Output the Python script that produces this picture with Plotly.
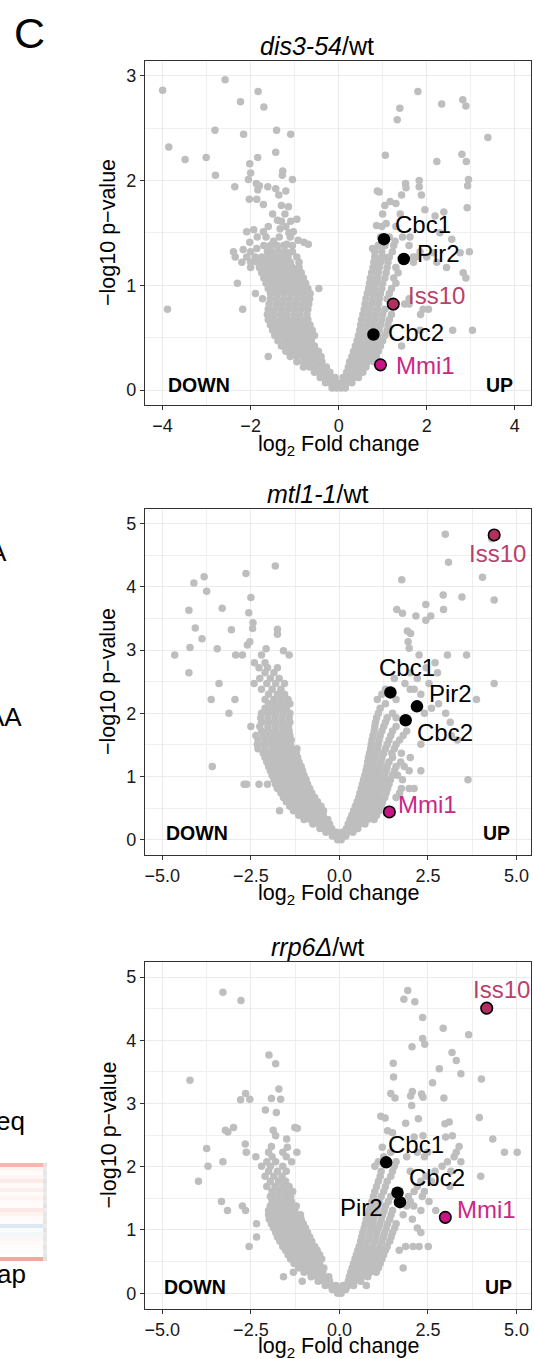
import plotly.graph_objects as go

W, H = 534, 1359
FONT = "Liberation Sans, Arial, Helvetica, sans-serif"

# ------------------------------------------------------------------ data
# panel 1 : dis3-54/wt  -- dense part given as rows (y, [x ...]), plus scattered points
p1_rows = [
    (0.02, [-0.15, -0.05, 0.05, 0.15]),
    (0.07, [-0.3, -0.18, -0.06, 0.06, 0.18, 0.3]),
    (0.12, [-0.42, -0.3, -0.18, -0.08, 0.1, 0.22, 0.34, 0.45]),
    (0.17, [-0.55, -0.42, -0.3, -0.2, 0.18, 0.3, 0.42, 0.55]),
    (0.22, [-0.8, -0.66, -0.52, -0.4, -0.28, 0.22, 0.35, 0.48, 0.62]),
    (0.27, [-0.95, -0.8, -0.66, -0.52, -0.38, 0.25, 0.38, 0.52, 0.66, 0.8]),
    (0.32, [-1.6, -1.1, -0.95, -0.8, -0.66, -0.52, -0.4, 0.3, 0.44, 0.58, 0.72, 0.86]),
    (0.37, [-1.2, -1.05, -0.9, -0.75, -0.6, -0.46, 0.34, 0.48, 0.62, 0.76, 0.9]),
    (0.42, [-1.3, -1.15, -1.0, -0.85, -0.7, -0.55, 0.38, 0.52, 0.66, 0.8, 0.95, 1.43]),
    (0.47, [-1.38, -1.22, -1.07, -0.92, -0.77, -0.62, 0.42, 0.56, 0.7, 0.84, 1.0]),
    (0.52, [-1.45, -1.3, -1.15, -1.0, -0.85, -0.7, -0.55, 0.45, 0.6, 0.74, 0.88, 1.05]),
    (0.57, [-1.5, -1.35, -1.2, -1.05, -0.9, -0.75, -0.6, 0.48, 0.62, 0.78, 0.92, 1.1, 1.85, 2.59, 3.04]),
    (0.62, [-1.55, -1.4, -1.25, -1.1, -0.95, -0.8, -0.65, 0.5, 0.65, 0.8, 0.95, 1.12]),
    (0.67, [-1.6, -1.45, -1.3, -1.15, -1.0, -0.85, -0.7, 0.52, 0.68, 0.82, 0.98, 1.15]),
    (0.72, [-1.62, -1.48, -1.32, -1.18, -1.02, -0.88, -0.72, 0.55, 0.7, 0.85, 1.0, 1.2, 1.86]),
    (0.77, [-3.89, -2.18, -1.6, -1.45, -1.3, -1.15, -1.0, -0.85, -0.7, 0.58, 0.72, 0.88, 1.05, 1.92, 2.04]),
    (0.82, [-1.58, -1.42, -1.28, -1.12, -0.98, -0.82, -0.68, 0.6, 0.75, 0.9, 1.5, 1.6]),
    (0.87, [-1.73, -1.55, -1.4, -1.25, -1.1, -0.95, -0.8, -0.66, 0.62, 0.78, 0.92, 1.1, 1.6]),
    (0.92, [-1.89, -1.55, -1.4, -1.25, -1.1, -0.95, -0.8, -0.65, 0.65, 0.8, 0.95, 1.15]),
    (0.97, [-1.6, -1.45, -1.3, -1.15, -1.0, -0.85, -0.7, -0.45, 0.68, 0.82, 0.98, 1.2]),
    (1.02, [-2.3, -1.65, -1.5, -1.35, -1.2, -1.05, -0.9, -0.75, 0.7, 0.85, 1.0, 1.3]),
    (1.07, [-1.7, -1.55, -1.4, -1.25, -1.1, -0.95, -0.8, 0.72, 0.88, 1.05, 1.25, 2.89]),
    (1.12, [-1.75, -1.6, -1.45, -1.3, -1.15, -1.0, -0.85, 0.75, 0.9, 1.08, 1.35, 2.83]),
    (1.17, [-2.0, -1.8, -1.65, -1.5, -1.35, -1.2, -1.05, -0.9, 0.78, 0.92, 1.1, 1.3, 2.45]),
    (1.22, [-2.2, -2.0, -1.85, -1.7, -1.55, -1.4, -1.25, -1.1, -0.9, 0.8, 0.95, 1.12, 1.7, 2.23]),
    (1.27, [-2.35, -1.9, -1.75, -1.6, -1.45, -1.3, -1.15, -0.95, 0.82, 1.0, 1.15, 1.7, 2.0]),
    (1.32, [-2.0, -1.62, -1.5, -1.35, -1.2, -1.05, 0.82, 0.98, 1.22, 1.85, 2.97]),
    (1.38, [-1.7, -1.55, -1.4, -1.25, -1.05, 0.9, 1.05, 1.25, 1.6]),
    (1.46, [-1.85, -1.65, -1.35, -1.1, 0.95, 1.15, 1.45]),
    (1.56, [-1.6, -1.2, 0.98, 1.3]),
    (1.68, [-1.5, -1.22, 1.0, 1.4]),
]
p1_sparse = [
    (-4.0, 2.86), (-2.58, 2.96), (-1.83, 2.85), (-2.23, 2.75), (-1.70, 2.70), (-3.86, 2.32),
    (-3.49, 2.20), (-3.01, 2.22), (-2.81, 2.48), (-2.16, 2.44), (-1.41, 2.48), (-1.09, 2.44),
    (-2.80, 2.05), (-2.36, 1.94), (-2.02, 2.16), (-1.84, 2.22), (-1.43, 2.27), (-2.0, 2.07),
    (-2.05, 2.01), (-1.87, 1.97), (-1.84, 1.91), (-2.03, 1.82), (-1.86, 1.82), (-1.71, 1.77),
    (-1.80, 1.95), (-1.61, 1.94), (-1.43, 1.92), (-1.36, 1.86), (-1.20, 1.90), (-1.27, 2.09),
    (-1.28, 2.05), (-1.05, 2.01), (-1.30, 1.76), (-1.14, 1.75), (-1.39, 1.62), (-1.30, 1.61),
    (-1.09, 1.61), (-0.95, 1.63), (-2.09, 1.51), (-1.93, 1.53), (-1.71, 1.51), (-1.33, 1.54),
    (-1.13, 1.50), (-1.03, 1.51), (-1.48, 1.42), (-1.18, 1.39), (-0.92, 1.43), (-0.79, 1.41),
    (-0.69, 1.39), (-2.02, 1.41), (-2.17, 1.34), (-2.39, 1.32), (-2.09, 1.27), (-1.86, 1.35),
    (1.80, 2.85), (1.39, 2.69), (1.33, 2.58), (2.34, 2.73), (2.82, 2.77), (2.89, 2.71),
    (3.39, 2.41), (1.06, 2.24), (2.23, 2.18), (2.80, 2.25), (2.90, 2.18), (2.95, 2.01),
    (2.93, 1.95), (2.92, 1.74), (1.83, 2.0), (1.83, 1.94), (1.88, 1.86), (1.52, 1.97),
    (1.53, 1.93), (1.43, 1.86), (0.88, 1.90), (0.92, 1.89), (1.05, 1.76), (1.17, 1.80),
    (1.30, 1.78), (1.96, 1.72), (2.19, 1.66), (2.39, 1.70), (2.30, 1.50), (2.57, 1.44),
    (2.76, 1.31), (1.28, 1.42), (1.62, 1.46), (1.08, 1.59), (0.86, 1.57), (0.77, 1.35),
    (0.95, 1.26), (1.09, 1.26), (1.77, 1.27), (2.15, 1.31),
]

# panel 2 : mtl1-1/wt
p2_rows = [
    (0.0, [-0.05, 0.05]),
    (0.06, [-0.2, -0.08, 0.05, 0.18]),
    (0.12, [-0.38, -0.22, -0.08, 0.08, 0.22, 0.38]),
    (0.18, [-0.55, -0.38, -0.22, 0.2, 0.36, 0.52]),
    (0.25, [-0.75, -0.58, -0.42, -0.28, 0.25, 0.4, 0.56, 0.72]),
    (0.32, [-1.0, -0.82, -0.65, -0.48, -0.33, 0.3, 0.46, 0.62, 0.8, 0.98]),
    (0.39, [-1.15, -0.98, -0.8, -0.63, -0.46, 0.35, 0.52, 0.7, 0.88, 1.05]),
    (0.46, [-1.69, -1.3, -1.12, -0.95, -0.78, -0.6, -0.45, 0.4, 0.58, 0.76, 0.94, 1.12]),
    (0.53, [-1.4, -1.22, -1.05, -0.88, -0.7, -0.52, 0.45, 0.62, 0.8, 0.98, 1.18]),
    (0.6, [-1.5, -1.32, -1.15, -0.98, -0.8, -0.62, 0.5, 0.68, 0.86, 1.04, 1.22]),
    (0.67, [-1.58, -1.4, -1.22, -1.05, -0.88, -0.7, 0.55, 0.72, 0.9, 1.08, 1.28, 1.6]),
    (0.74, [-1.65, -1.48, -1.3, -1.12, -0.95, -0.78, 0.58, 0.76, 0.94, 1.12, 1.32, 1.7]),
    (0.81, [-1.75, -1.56, -1.38, -1.2, -1.02, -0.84, 0.62, 0.8, 0.98, 1.16, 1.36, 1.75, 1.97, 2.11]),
    (0.88, [-2.69, -2.62, -2.27, -2.03, -1.8, -1.62, -1.44, -1.26, -1.08, -0.9, 0.65, 0.84, 1.02, 1.2, 1.4]),
    (0.95, [-1.85, -1.66, -1.48, -1.3, -1.12, -0.94, 0.68, 0.86, 1.05, 1.24, 1.44, 1.78, 3.63]),
    (1.02, [-1.9, -1.72, -1.54, -1.36, -1.18, -1.0, 0.72, 0.9, 1.08, 1.28, 1.5, 1.64]),
    (1.09, [-1.95, -1.76, -1.58, -1.4, -1.22, -1.04, 0.75, 0.94, 1.12, 1.32, 1.55, 1.97, 2.3]),
    (1.16, [-3.59, -2.0, -1.8, -1.62, -1.44, -1.26, -1.08, 0.78, 0.96, 1.15, 1.35, 1.6, 1.83]),
    (1.23, [-2.05, -1.86, -1.68, -1.5, -1.32, -1.14, 0.8, 0.98, 1.18, 1.4, 1.73]),
    (1.3, [-2.1, -1.9, -1.72, -1.54, -1.36, -1.18, 0.82, 1.0, 1.2, 1.5, 2.0]),
    (1.37, [-2.15, -1.95, -1.76, -1.58, -1.4, -1.22, 0.85, 1.04, 1.25, 1.48, 1.75]),
    (1.44, [-2.3, -2.1, -1.9, -1.72, -1.54, -1.36, -1.2, 0.88, 1.08, 1.3, 1.55]),
    (1.51, [-2.32, -2.12, -1.92, -1.74, -1.56, -1.38, 0.9, 1.1, 1.35, 1.6, 2.3]),
    (1.58, [-2.3, -2.1, -1.9, -1.72, -1.54, -1.36, 0.92, 1.12, 1.4, 1.7, 3.33]),
    (1.65, [-2.36, -2.15, -1.95, -1.76, -1.58, -1.4, 0.95, 1.15, 1.45, 1.8, 3.16]),
    (1.72, [-2.2, -2.0, -1.8, -1.6, -1.42, 0.98, 1.2, 1.5, 1.9]),
    (1.79, [-2.5, -2.25, -2.02, -1.82, -1.62, -1.44, 1.0, 1.25, 1.6]),
    (1.86, [-2.2, -2.0, -1.8, -1.6, -1.4, 1.02, 1.3, 3.13]),
    (1.93, [-2.22, -2.02, -1.82, -1.62, -1.42, 1.05, 1.35, 1.6]),
    (2.0, [-3.12, -2.2, -2.0, -1.8, -1.6, -1.4, 1.1, 1.5, 2.4, 3.0]),
    (2.08, [-2.1, -1.9, -1.7, -1.5, 1.15, 2.6]),
    (2.15, [-2.0, -1.8, -1.6, -1.4, 1.3, 2.8]),
    (2.22, [-3.62, -2.95, -2.1, -1.85, -1.65, -1.45, 1.07, 1.6, 3.87]),
    (2.3, [-2.0, -1.75, -1.55, 1.2, 2.3]),
    (2.38, [-2.2, -1.9, -1.65, 1.3, 2.0, 2.11]),
    (2.47, [-3.40, -2.41, -2.05, -1.8, -1.55, 1.85, 2.53, 4.37]),
    (2.55, [-2.25, -1.95, -1.7, 1.55, 2.2]),
    (2.64, [-4.25, -2.1, -1.85, 2.0, 2.77]),
    (2.72, [-2.27, -2.03, -1.75, 2.45]),
    (2.8, [-2.4, -2.1, 2.7]),
    (2.92, [-4.65, -2.93, -2.74, -2.2, -1.42, 2.25, 3.05, 3.59]),
]
p2_sparse = [
    (2.99, 4.83), (3.08, 4.39), (4.04, 4.15), (4.37, 3.79), (3.46, 3.84), (2.93, 3.87),
    (2.94, 3.64), (2.44, 3.72), (2.44, 3.47), (2.58, 3.54), (2.16, 3.54), (1.62, 3.64),
    (1.78, 3.58), (1.76, 4.11), (1.92, 3.30), (2.01, 3.26), (1.94, 3.13), (1.97, 3.03),
    (-1.81, 4.33), (-2.64, 4.21), (-3.82, 4.16), (-4.11, 4.06), (-3.75, 3.93), (-2.50, 3.83),
    (-4.25, 3.63), (-3.31, 3.66), (-2.56, 3.59), (-2.44, 3.43), (-2.45, 3.34), (-4.07, 3.35),
    (-3.88, 3.18), (-3.05, 3.32), (-1.75, 3.33), (-1.75, 3.25), (-2.53, 3.13), (-2.60, 3.08),
    (-4.22, 3.04), (-3.45, 3.02), (-2.07, 3.02), (-1.58, 2.99), (4.30, 4.76),
]

# panel 3 : rrp6Δ/wt
p3_rows = [
    (0.0, [-0.05, 0.05]),
    (0.06, [-0.2, -0.08, 0.06, 0.18]),
    (0.12, [-0.4, -0.25, -0.1, 0.1, 0.25, 0.4, 0.76]),
    (0.19, [-1.05, -0.6, -0.44, -0.28, 0.25, 0.42, 0.6]),
    (0.26, [-1.58, -0.8, -0.62, -0.45, -0.3, 0.28, 0.45, 0.62, 0.8]),
    (0.33, [-1.3, -1.0, -0.82, -0.64, -0.47, 0.32, 0.5, 0.68, 0.86, 1.04]),
    (0.4, [-1.15, -0.96, -0.78, -0.6, -0.44, 0.36, 0.54, 0.72, 0.9, 1.1, 1.8]),
    (0.47, [-1.28, -1.1, -0.92, -0.74, -0.56, 0.4, 0.58, 0.76, 0.95, 1.15]),
    (0.54, [-1.38, -1.2, -1.02, -0.84, -0.66, -0.5, 0.44, 0.62, 0.8, 1.0, 1.2]),
    (0.61, [-1.45, -1.28, -1.1, -0.92, -0.74, -0.56, 0.48, 0.66, 0.85, 1.05, 1.25]),
    (0.68, [-1.52, -1.35, -1.17, -0.99, -0.81, -0.63, 0.52, 0.7, 0.9, 1.1, 1.3, 1.69]),
    (0.74, [-2.55, -1.6, -1.42, -1.24, -1.06, -0.88, -0.7, 0.56, 0.75, 0.95, 1.15, 1.35,
            1.87, 2.08, 2.25, 2.51]),
    (0.82, [-1.68, -1.5, -1.32, -1.14, -0.96, -0.78, 0.6, 0.8, 1.0, 1.2, 1.42]),
    (0.89, [-2.34, -1.75, -1.56, -1.38, -1.2, -1.02, -0.84, 0.63, 0.83, 1.03, 1.24, 1.46]),
    (0.96, [-1.8, -1.62, -1.44, -1.26, -1.08, -0.9, 0.66, 0.86, 1.06, 1.28, 1.5, 2.3]),
    (1.03, [-1.86, -1.68, -1.5, -1.32, -1.14, -0.96, 0.7, 0.9, 1.1, 1.32, 1.56, 2.2]),
    (1.1, [-2.34, -1.92, -1.74, -1.56, -1.38, -1.2, -1.02, 0.73, 0.93, 1.14, 1.36, 1.6]),
    (1.17, [-1.98, -1.8, -1.62, -1.44, -1.26, -1.08, 0.76, 0.96, 1.18, 1.42, 2.06]),
    (1.24, [-2.0, -1.82, -1.64, -1.46, -1.28, -1.1, 0.8, 1.0, 1.22, 1.46, 1.8]),
    (1.31, [-3.16, -2.65, -2.0, -1.8, -1.62, -1.44, -1.26, 0.84, 1.04, 1.26, 1.5, 2.3, 2.72]),
    (1.38, [-2.74, -1.95, -1.76, -1.58, -1.4, -1.22, 0.88, 1.08, 1.3, 1.9, 2.1]),
    (1.45, [-3.33, -1.9, -1.72, -1.54, -1.36, 0.92, 1.12, 1.38, 2.0, 2.53]),
    (1.53, [-1.95, -1.75, -1.55, -1.38, 0.96, 1.18, 1.45, 1.95, 2.34]),
    (1.61, [-1.9, -1.7, -1.5, -1.32, 1.0, 1.25, 2.11, 2.4]),
    (1.69, [-2.05, -1.82, -1.62, -1.42, 1.05, 1.3, 2.2, 3.12]),
    (1.77, [-3.98, -1.95, -1.72, -1.52, 1.1, 1.35, 2.3, 2.6]),
    (1.85, [-2.1, -1.85, -1.62, 1.15, 1.45, 2.44, 3.99]),
    (1.93, [-2.0, -1.75, -1.5, 1.18, 1.5, 2.0, 2.7, 3.15]),
    (2.01, [-3.71, -2.2, -1.95, -1.6, 1.0, 1.55, 2.9]),
    (2.08, [-3.29, -2.05, -1.8, -1.35, 1.1, 1.6, 3.05, 3.43]),
    (2.16, [-2.36, -1.9, -1.5, 1.25, 1.9, 2.4, 3.24]),
    (2.23, [-2.63, -2.0, -1.6, -1.2, 1.45, 2.2, 2.49, 3.3, 4.66, 5.02]),
]
p3_sparse = [
    (-3.29, 4.76), (-2.78, 4.63), (-1.99, 3.77), (-1.80, 3.63), (-4.22, 3.37), (-2.65, 3.16),
    (-2.79, 3.06), (-2.53, 3.07), (-1.71, 3.23), (-1.92, 3.08), (-1.66, 3.07), (-2.09, 2.90),
    (-1.78, 2.86), (-3.22, 2.58), (-3.15, 2.55), (-2.99, 2.62), (-1.87, 2.58), (-1.80, 2.49),
    (-1.49, 2.44), (-1.26, 2.62), (-1.19, 2.61), (-2.66, 2.36), (-3.75, 2.29), (-1.92, 2.32),
    (-1.47, 2.31),
    (1.93, 4.79), (1.82, 4.65), (2.13, 4.61), (2.35, 4.36), (2.35, 4.03), (2.41, 3.94),
    (2.05, 3.90), (2.93, 4.19), (3.65, 4.09), (3.18, 3.81), (3.30, 3.68), (3.43, 3.47),
    (2.82, 3.55), (2.63, 3.33), (4.01, 3.39), (1.52, 3.64), (1.53, 3.42), (1.45, 3.16),
    (1.57, 3.09), (2.06, 3.19), (2.01, 3.12), (2.32, 3.15), (2.36, 3.10), (2.04, 2.97),
    (2.95, 3.09), (1.17, 2.80), (1.29, 2.77), (1.87, 2.69), (2.23, 2.76), (2.98, 2.68),
    (3.10, 2.71), (3.95, 2.78), (4.33, 2.44), (1.36, 2.57), (1.50, 2.54), (3.19, 2.49),
    (3.0, 2.47), (2.11, 2.47), (2.36, 2.49), (3.38, 2.32), (1.21, 2.31), (4.12, 4.47),
]

# highlighted genes (log2 fold change, -log10 p)
genes = ["Cbc1", "Pir2", "Cbc2", "Iss10", "Mmi1"]
p1_hi = {"Cbc1": (1.03, 1.44), "Pir2": (1.48, 1.25), "Cbc2": (0.79, 0.53),
         "Iss10": (1.24, 0.82), "Mmi1": (0.95, 0.24)}
p2_hi = {"Cbc1": (1.44, 2.33), "Pir2": (2.19, 2.11), "Cbc2": (1.87, 1.89),
         "Iss10": (4.37, 4.82), "Mmi1": (1.41, 0.44)}
p3_hi = {"Cbc1": (1.32, 2.07), "Pir2": (1.71, 1.44), "Cbc2": (1.64, 1.59),
         "Iss10": (4.16, 4.51), "Mmi1": (2.99, 1.20)}

titles = ["<i>dis3-54</i>/wt", "<i>mtl1-1</i>/wt", "<i>rrp6Δ</i>/wt"]
p1_xticks = [-4, -2, 0, 2, 4]
p23_xticks = [-5.0, -2.5, 0.0, 2.5, 5.0]
p1_yticks = [0, 1, 2, 3]
p23_yticks = [0, 1, 2, 3, 4, 5]

# fragment of the neighbouring heat map (values per row, top to bottom)
hm_values = [0.42, 0.06, 0.02, 0.05, 0.12, 0.03, 0.09, 0.02, 0.06, 0.03, 0.02, 0.13,
             0.07, 0.03, 0.02, -0.17, -0.03, -0.05, 0.05, 0.03, 0.02, -0.02, 0.0, 0.5]
hm_side = [0.3, 0.8, 0.5, 0.9, 0.4, 0.8, 0.6, 0.9, 0.5, 0.8, 0.4, 0.9,
           0.6, 0.8, 0.5, 0.9, 0.4, 0.8, 0.6, 0.9, 0.5, 0.8, 0.6, 0.3]

# ------------------------------------------------------------------ styles
GREY = "#BEBEBE"
HI_COL = {"Cbc1": "#000000", "Pir2": "#000000", "Cbc2": "#000000",
          "Iss10": "#B03060", "Mmi1": "#C71585"}
TXT_COL = {"Cbc1": "#000000", "Pir2": "#000000", "Cbc2": "#000000",
           "Iss10": "#B8416C", "Mmi1": "#C92887"}
# label placement in pixels relative to the point: (xanchor, xshift, yshift)
LBL = [
    {"Cbc1": ("left", 9, 15), "Pir2": ("left", 11, 6), "Iss10": ("left", 13, 9),
     "Cbc2": ("left", 13, 2), "Mmi1": ("left", 14, -1)},
    {"Cbc1": ("center", 17, 25), "Pir2": ("left", 10, 13), "Iss10": ("center", 3, -19),
     "Cbc2": ("left", 9, -12), "Mmi1": ("left", 7, 7)},
    {"Cbc1": ("center", 30, 18), "Pir2": ("right", -15, -5), "Iss10": ("center", 15, 19),
     "Cbc2": ("left", 10, 15), "Mmi1": ("left", 10, 8)},
]

# panel pixel boxes: (top, bottom); x from 145 to 531
PX_L, PX_R = 145, 531
BOX = [(61, 405), (509, 855), (962, 1309)]
XR = [[-4.40, 4.37], [-5.49, 5.41], [-5.49, 5.41]]
YR = [[-0.143, 3.14], [-0.24, 5.23], [-0.25, 5.24]]
XLAB_Y = [445, 894, 1347]


def fx(px):
    return px / W


def fy(py):
    return 1 - py / H


def expand(rows, sparse):
    xs, ys = [], []
    for y, xl in rows:
        for x in xl:
            xs.append(x)
            ys.append(y)
    for x, y in sparse:
        xs.append(x)
        ys.append(y)
    return xs, ys


fig = go.Figure()
annotations = []

panels = [(p1_rows, p1_sparse, p1_hi), (p2_rows, p2_sparse, p2_hi), (p3_rows, p3_sparse, p3_hi)]
for i, (rows, sparse, hi) in enumerate(panels):
    ax = "" if i == 0 else str(i + 1)
    xs, ys = expand(rows, sparse)
    fig.add_trace(go.Scatter(x=xs, y=ys, mode="markers", xaxis="x" + ax, yaxis="y" + ax,
                             marker=dict(size=7.5, color=GREY, line=dict(width=0)),
                             showlegend=False, hoverinfo="skip"))
    for g in genes:
        gx, gy = hi[g]
        pink = g in ("Iss10", "Mmi1")
        fig.add_trace(go.Scatter(
            x=[gx], y=[gy], mode="markers", xaxis="x" + ax, yaxis="y" + ax,
            marker=dict(size=11.5 if pink else 12.5, color=HI_COL[g],
                        line=dict(width=1.6 if pink else 0, color="#000000")),
            showlegend=False, hoverinfo="skip"))
        anc, xs_, ys_ = LBL[i][g]
        annotations.append(dict(x=gx, y=gy, xref="x" + ax, yref="y" + ax, text=g,
                                showarrow=False, xanchor=anc, yanchor="middle",
                                xshift=xs_, yshift=ys_,
                                font=dict(family=FONT, size=24, color=TXT_COL[g])))

    top, bot = BOX[i]
    xticks = p1_xticks if i == 0 else p23_xticks
    yticks = p1_yticks if i == 0 else p23_yticks
    xstep = (xticks[1] - xticks[0]) / 2
    ystep = 0.5
    xminor = [t + xstep for t in xticks[:-1]] + [xticks[0] - xstep, xticks[-1] + xstep]
    yminor = [t + ystep for t in yticks[:-1]] + [yticks[0] - ystep, yticks[-1] + ystep]
    common = dict(showline=True, linecolor="#333333", linewidth=1.2, mirror=True,
                  ticks="outside", ticklen=4, tickwidth=1.1, tickcolor="#333333",
                  showgrid=True, gridcolor="#EBEBEB", gridwidth=1.1, zeroline=False,
                  tickfont=dict(family=FONT, size=18, color="#1A1A1A"))
    fig.layout["xaxis" + ax] = dict(
        domain=[fx(PX_L), fx(PX_R)], anchor="y" + ax, range=XR[i],
        tickvals=xticks, tickformat=("d" if i == 0 else ".1f"),
        minor=dict(tickvals=xminor, showgrid=True, gridcolor="#EFEFEF", gridwidth=0.6, ticks=""),
        **common)
    fig.layout["yaxis" + ax] = dict(
        domain=[fy(bot), fy(top)], anchor="x" + ax, range=YR[i], tickvals=yticks,
        minor=dict(tickvals=yminor, showgrid=True, gridcolor="#EFEFEF", gridwidth=0.6, ticks=""),
        **common)

    # titles / axis labels
    annotations.append(dict(x=fx(317), y=fy(top - 15), xref="paper", yref="paper",
                            text=titles[i], showarrow=False, xanchor="center", yanchor="middle",
                            font=dict(family=FONT, size=25, color="#000000")))
    annotations.append(dict(x=fx(338.7), y=fy(XLAB_Y[i]), xref="paper", yref="paper",
                            text="log<sub>2</sub> Fold change", showarrow=False,
                            xanchor="center", yanchor="middle",
                            font=dict(family=FONT, size=21.5, color="#000000")))
    annotations.append(dict(x=fx(108), y=fy((top + bot) / 2), xref="paper", yref="paper",
                            text="−log10 p−value", showarrow=False, textangle=-90,
                            xanchor="center", yanchor="middle",
                            font=dict(family=FONT, size=21.5, color="#000000")))
    # DOWN / UP
    dx = [(-3.93, 4.0, 0.05), (-4.95, 4.87, 0.10), (-5.02, 4.93, 0.095)][i]
    annotations.append(dict(x=dx[0], y=dx[2], xref="x" + ax, yref="y" + ax, text="<b>DOWN</b>",
                            showarrow=False, xanchor="left", yanchor="middle",
                            font=dict(family=FONT, size=19.5, color="#000000")))
    annotations.append(dict(x=dx[1], y=dx[2], xref="x" + ax, yref="y" + ax, text="<b>UP</b>",
                            showarrow=False, xanchor="right", yanchor="middle",
                            font=dict(family=FONT, size=19.5, color="#000000")))

# heat-map fragment on the left edge
fig.add_trace(go.Heatmap(z=[[v] for v in hm_values], x=[0, 43], y=list(range(len(hm_values) + 1)),
                         xaxis="x4", yaxis="y4", zmin=-1, zmax=1, showscale=False,
                         colorscale=[[0, "#3C78B4"], [0.5, "#FFFFFF"], [1, "#E8503A"]],
                         hoverinfo="skip"))
fig.add_trace(go.Heatmap(z=[[v] for v in hm_side], x=[43, 47], y=list(range(len(hm_side) + 1)),
                         xaxis="x4", yaxis="y4", zmin=0, zmax=1, showscale=False,
                         colorscale=[[0, "#DCDCDC"], [1, "#EEEEEE"]], hoverinfo="skip"))
fig.layout["xaxis4"] = dict(domain=[0, fx(47)], range=[0, 47], visible=False, anchor="y4")
fig.layout["yaxis4"] = dict(domain=[fy(1261), fy(1163)], range=[len(hm_values), 0],
                            visible=False, anchor="x4")

# panel letter and clipped neighbouring text
annotations.append(dict(x=fx(12), y=fy(33), xref="paper", yref="paper", text="C", showarrow=False,
                        xanchor="left", yanchor="middle",
                        font=dict(family=FONT, size=43, color="#000000")))
for txt, xr, yc in [("A", 9, 552), ("AA", 24, 717), ("eq", 27, 1121), ("ap", 28, 1274)]:
    annotations.append(dict(x=fx(xr), y=fy(yc), xref="paper", yref="paper", text=txt,
                            showarrow=False, xanchor="right", yanchor="middle",
                            font=dict(family=FONT, size=26, color="#000000")))

fig.update_layout(width=W, height=H, margin=dict(l=0, r=0, t=0, b=0),
                  paper_bgcolor="white", plot_bgcolor="white", annotations=annotations,
                  showlegend=False)
fig.write_html("out.html", config={"displayModeBar": False, "responsive": False},
               post_script="document.body.style.margin='0px';"
                           "document.body.style.overflow='hidden';")
